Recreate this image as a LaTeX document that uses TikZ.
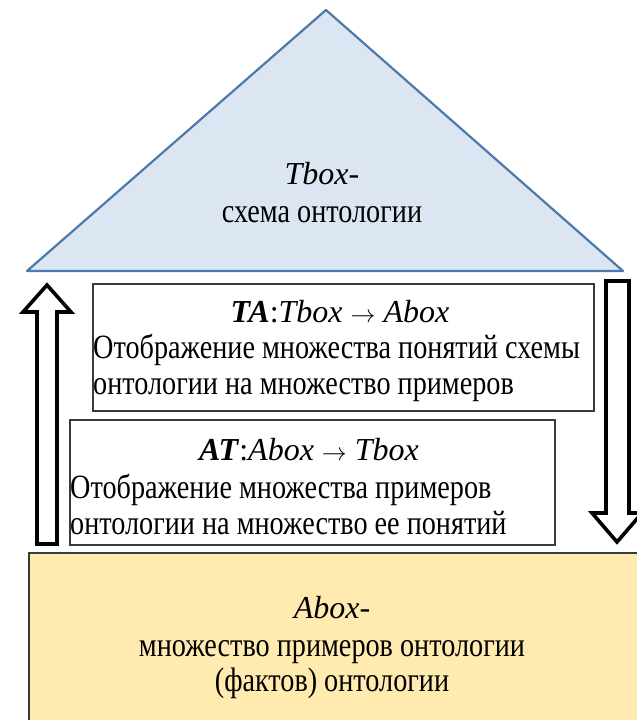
\documentclass[tikz,border=0pt]{standalone}
\usepackage{fontspec}
\setmainfont[FakeStretch=0.83]{Liberation Serif}
\newfontfamily\hd{Liberation Serif}
\usetikzlibrary{positioning}
\definecolor{tfill}{HTML}{DCE6F2}
\definecolor{tline}{HTML}{4A7BAA}
\definecolor{afill}{HTML}{FFEAB0}
\definecolor{bline}{HTML}{3A3A3A}
\begin{document}
\begin{tikzpicture}[x=1pt,y=-1pt,font=\fontsize{34}{36}\selectfont]
    \tikzset{b/.style={draw=bline, line width=1.6pt, inner sep=0pt},
             t/.style={inner sep=0pt, anchor=base},
             l/.style={inner sep=0pt, anchor=base west},
             ar/.style={draw=black, fill=white, line width=3.6pt, line join=miter}}
    \useasboundingbox (0,0) rectangle (637,720);
    % Tbox
    \draw[tline, fill=tfill, line width=2.2pt, line join=round] (27,271) -- (326,10) -- (623,271) -- cycle;
    \node[t] (tb1) at (322,184) {\hd\fontsize{32}{36}\selectfont\textit{Tbox}-};
    \node[t] (tb2) at (322,222) {схема онтологии};
    % Abox
    \draw[bline, fill=afill, line width=1.6pt] (29,553) rectangle (650,730);
    \node[t] (ab1) at (332,618) {\hd\fontsize{32}{36}\selectfont\textit{Abox}-};
    \node[t] (ab2) at (332,656) {множество примеров онтологии};
    \node[t] (ab3) at (332,691) {(фактов) онтологии};
    % mappings
    \node[b, minimum width=501, minimum height=127] (ta) at (343.5,347.5) {};
    \node[t] (ta1) at (340,322) {\hd\fontsize{32}{36}\selectfont\textbf{\textit{TA}}:\textit{Tbox} $\rightarrow$ \textit{Abox}};
    \node[l] (ta2) at (93,358) {Отображение множества понятий схемы};
    \node[l] (ta3) at (93,394) {онтологии на множество примеров};
    \node[b, minimum width=485, minimum height=125] (at) at (312.5,482.5) {};
    \node[t] (at1) at (309,460) {\hd\fontsize{32}{36}\selectfont\textbf{\textit{AT}}:\textit{Abox} $\rightarrow$ \textit{Tbox}};
    \node[l] (at2) at (70,498) {Отображение множества примеров};
    \node[l] (at3) at (70,534) {онтологии на множество ее понятий};
    % arrows
    \draw[ar] (37,544) -- (37,312) -- (23,312) -- (47,285) -- (71,312) -- (57,312) -- (57,544) -- cycle;
    \draw[ar] (606,281) -- (606,513) -- (592,513) -- (617,542) -- (642,513) -- (629,513) -- (629,281) -- cycle;
\end{tikzpicture}
\end{document}
